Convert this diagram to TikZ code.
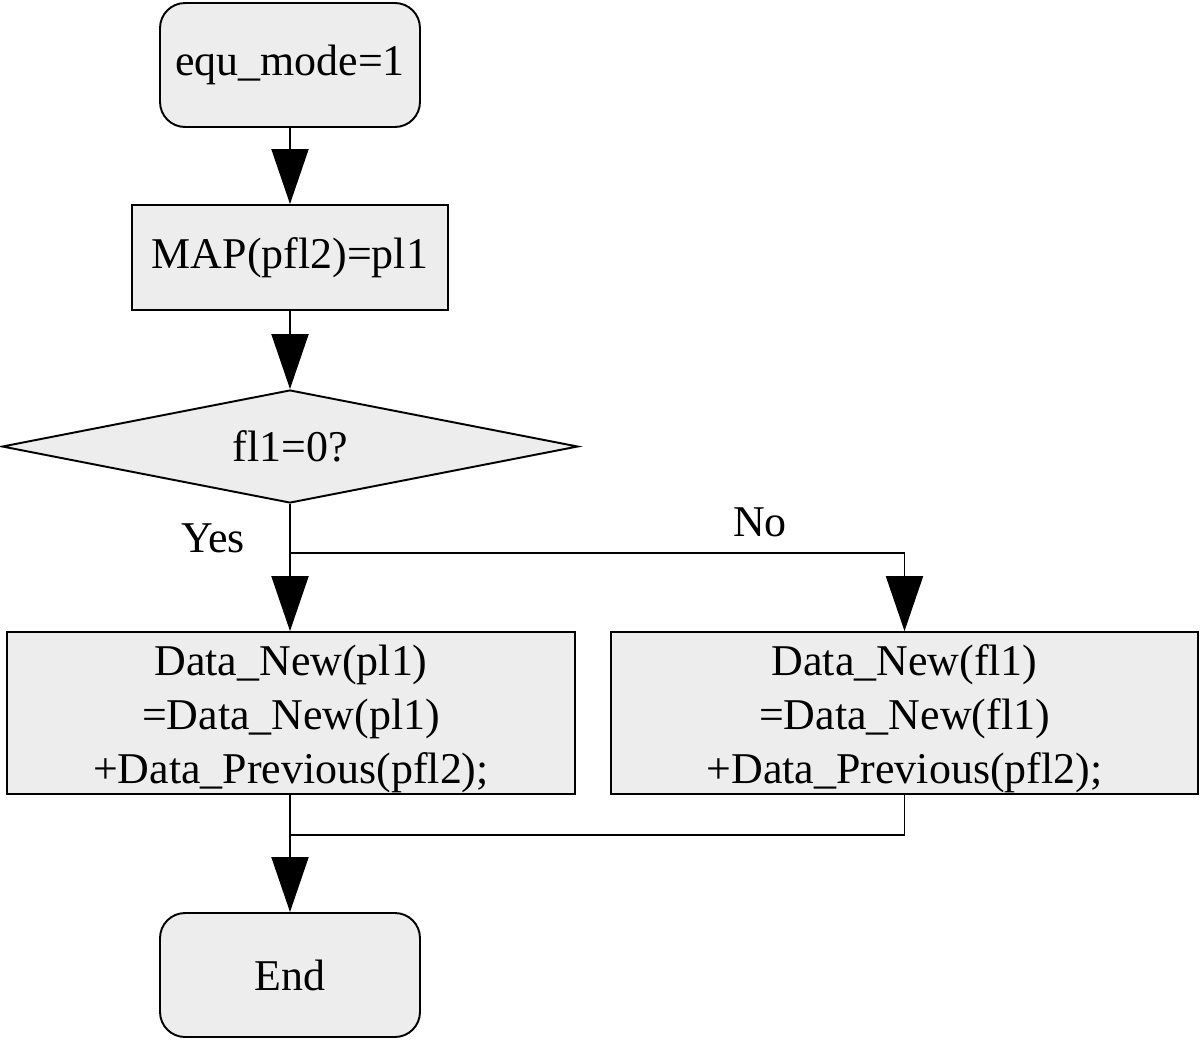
\documentclass[tikz,border=0pt]{standalone}
\usepackage{fontspec}
\setmainfont{Liberation Serif}
\usetikzlibrary{shapes.geometric,arrows.meta}
\newcommand{\lowtext}[1]{\raisebox{-0.12cm}[\height][\depth]{\begin{tabular}{@{}c@{}}#1\end{tabular}}}
\begin{document}
\begin{tikzpicture}[x=0.02cm,y=-0.02cm,
  every node/.style={font=\fontsize{25}{30.7}\selectfont},
  box/.style={draw=black,line width=1.1pt,fill=black!7,inner sep=0pt,align=center},
  term/.style={box,rounded corners=0.5cm},
  dia/.style={draw=black,line width=1.1pt,fill=black!7,shape=diamond,shape aspect=5.1,inner sep=0pt},
  conn/.style={line width=1.1pt},
  arr/.style={conn,-{Triangle[length=1.1cm,width=0.74cm]}},
  lbl/.style={inner sep=0pt}]
\useasboundingbox (0,0) rectangle (1200,1042);
\node[term,minimum width=5.2cm,minimum height=2.48cm] (start) at (290,65) {equ\_mode=1};
\node[box,minimum width=6.32cm,minimum height=2.1cm] (map) at (290,257.5) {MAP(pfl2)=pl1};
\node[dia,minimum width=11.52cm,minimum height=2.26cm] (dec) at (290,446.5) {fl1=0?};
\node[box,minimum width=11.36cm,minimum height=3.2cm] (left) at (291,713) {\lowtext{Data\_New(pl1)\\=Data\_New(pl1)\\+Data\_Previous(pfl2);}};
\node[box,minimum width=11.74cm,minimum height=3.2cm] (right) at (904.5,713) {\lowtext{Data\_New(fl1)\\=Data\_New(fl1)\\+Data\_Previous(pfl2);}};
\node[term,minimum width=5.2cm,minimum height=2.48cm] (end) at (290,975) {End};
\coordinate (br) at (290,553);
\coordinate (mg) at (290,835);
\node[lbl] (yes) at (213,538) {Yes};
\node[lbl] (no) at (760,522) {No};
\draw[arr] (start) -- (map);
\draw[arr] (map) -- (dec);
\draw[arr] (dec.south) -- (dec.south |- left.north);
\draw[arr] (br) -| (right.north);
\draw[arr] (left.south -| end.north) -- (end.north);
\draw[conn] (right.south) |- (mg);
\end{tikzpicture}
\end{document}
